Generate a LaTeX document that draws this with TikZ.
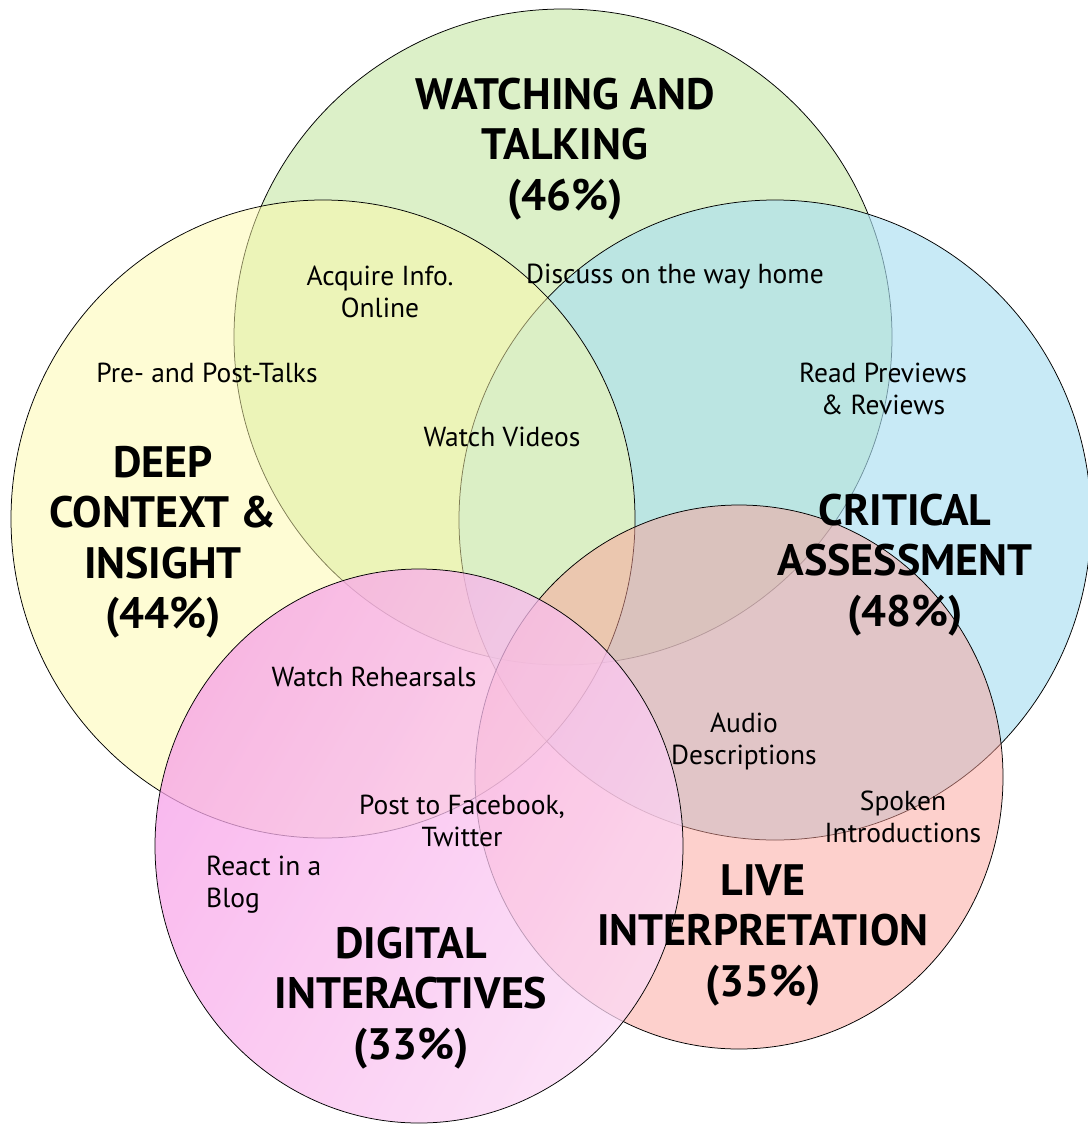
\documentclass[tikz,border=0pt]{standalone}
\usepackage{fontspec}
\setmainfont{PT Sans}
\definecolor{setgreen}{RGB}{185,225,145}
\definecolor{setblue}{RGB}{170,223,241}
\definecolor{setyellow}{RGB}{253,249,169}
\definecolor{setsalmon}{RGB}{251,161,153}
\definecolor{pinkleft}{RGB}{247,160,232}
\definecolor{pinkright}{RGB}{251,218,245}
\begin{document}
\begin{tikzpicture}[x=1pt,y=-1pt,
  setarea/.style={fill=#1, fill opacity=0.5, draw=black, line width=0.75pt},
  head/.style={font=\bfseries\fontsize{44}{50.5}\selectfont, align=center, inner sep=0pt},
  item/.style={font=\fontsize{27.5}{32}\selectfont, align=center, inner sep=0pt}]
\useasboundingbox (0,0) rectangle (1087,1127);

% the five sets, drawn back to front
\path[setarea=setgreen]  (563,337) ellipse [x radius=329, y radius=328];
\path[setarea=setblue, fill opacity=0.65] (775,520) ellipse [x radius=316, y radius=320];
\path[setarea=setyellow] (323,519) ellipse [x radius=312, y radius=319];
\path[setarea=setsalmon] (739,777) ellipse [x radius=264, y radius=272];
\path[left color=pinkleft, right color=pinkright, shading angle=60,
      fill opacity=0.75, draw=black, line width=0.75pt]
      (419,846) ellipse [x radius=264, y radius=277];

% set titles
\node[head] (watch)    at (565,149) {WATCHING AND\\TALKING\\(46\%)};
\node[head] (deep)     at (163,542) {DEEP\\CONTEXT \&\\INSIGHT\\(44\%)};
\node[head] (critical) at (905,565) {CRITICAL\\ASSESSMENT\\(48\%)};
\node[head] (live)     at (763,935) {LIVE\\INTERPRETATION\\(35\%)};
\node[head] (digital)  at (411,998) {DIGITAL\\INTERACTIVES\\(33\%)};

% activities
\node[item] (acquire)  at (380,292) {Acquire Info.\\Online};
\node[item] (discuss)  at (675,277) {Discuss on the way home};
\node[item] (talks)    at (207,373) {Pre- and Post-Talks};
\node[item] (previews) at (883,389) {Read Previews\\\& Reviews};
\node[item] (videos)   at (502,437) {Watch Videos};
\node[item] (rehears)  at (374,677) {Watch Rehearsals};
\node[item] (audio)    at (744,741) {Audio\\Descriptions};
\node[item] (post)     at (462,821) {Post to Facebook,\\Twitter};
\node[item] (spoken)   at (903,817) {Spoken\\Introductions};
\node[item, align=left, anchor=west] (blog) at (206,885) {React in a\\Blog};
\end{tikzpicture}
\end{document}
